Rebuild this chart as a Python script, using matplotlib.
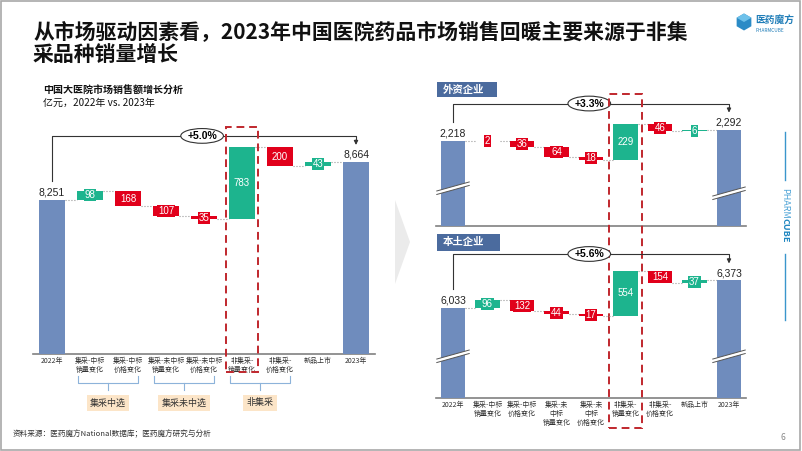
import matplotlib
matplotlib.use('Agg')
import matplotlib.pyplot as plt
import numpy as np
from matplotlib.patches import Rectangle, Polygon
from matplotlib.transforms import blended_transform_factory

plt.rcParams['font.family'] = ['Noto Sans CJK SC', 'DejaVu Sans']

# ---------------- data ----------------
cat_left = ['2022年', '集采-中标\n销量变化', '集采-中标\n价格变化', '集采-未中标\n销量变化',
            '集采-未中标\n价格变化', '非集采-\n销量变化', '非集采-\n价格变化', '新品上市', '2023年']
cat_right = ['2022年', '集采-中标\n销量变化', '集采-中标\n价格变化', '集采-未\n中标\n销量变化',
             '集采-未\n中标\n价格变化', '非集采-\n销量变化', '非集采-\n价格变化', '新品上市', '2023年']
total_vals = [8251, 98, -168, -107, -35, 783, -200, 43, 8664]
foreign_vals = [2218, -2, -36, -64, -18, 229, -46, 6, 2292]
domestic_vals = [6033, 96, -132, -44, -17, 554, -154, 37, 6373]
group_labels = ['集采中选', '集采未中选', '非集采']
group_first_idx = [1, 3, 5]
highlight_idx = 5

BLUE = '#6F8CBD'
GREEN = '#1DB48E'
RED = '#E1001B'
HEADER = '#4B6B9E'
BEIGE = '#FCE5C8'
DASH_RED = '#C0272D'
NUMFONT = ['Liberation Sans', 'DejaVu Sans']

W, H = 802, 451
fig = plt.figure(figsize=(W / 100, H / 100), dpi=100)


def add_ax(x0, y0, x1, y1):
    return fig.add_axes([x0 / W, 1 - y1 / H, (x1 - x0) / W, (y1 - y0) / H])


def ftext(x, y, s, **kw):
    return fig.text(x / W, 1 - y / H, s, **kw)


def waterfall(ax, vals, ylim, px_h, level_frac, cats=None, breaks=None):
    ax.set_xlim(-0.5, 8.5)
    ax.set_ylim(*ylim)
    upp = (ylim[1] - ylim[0]) / px_h
    n = len(vals)
    bw = 0.7
    ax.bar(0, vals[0], width=bw, color=BLUE, zorder=3)
    ax.annotate(f'{vals[0]:,}', (0, vals[0]), xytext=(0, 1.5), textcoords='offset points',
                ha='center', va='bottom', fontsize=7.5, family=NUMFONT, color='#222')
    running = vals[0]
    for i in range(1, n - 1):
        v = vals[i]
        col = GREEN if v >= 0 else RED
        bottom = running if v >= 0 else running + v
        ax.plot([i - 1 + bw / 2, i - bw / 2], [running, running], ls=':', color='#9A9A9A', lw=0.8, zorder=2)
        ax.bar(i, abs(v), bottom=bottom, width=bw, color=col, zorder=3)
        ax.text(i, bottom + abs(v) / 2, f'{abs(v)}', ha='center', va='center', color='white',
                fontsize=7, family=NUMFONT, zorder=4,
                bbox=dict(boxstyle='square,pad=0.1', fc=col, ec='none'))
        running += v
    ax.plot([n - 2 + bw / 2, n - 1 - bw / 2], [running, running], ls=':', color='#9A9A9A', lw=0.8, zorder=2)
    ax.bar(n - 1, vals[-1], width=bw, color=BLUE, zorder=3)
    ax.annotate(f'{vals[-1]:,}', (n - 1, vals[-1]), xytext=(0, 1.5), textcoords='offset points',
                ha='center', va='bottom', fontsize=7.5, family=NUMFONT, color='#222')

    # growth arrow
    level = ylim[0] + level_frac * (ylim[1] - ylim[0])
    y_start = vals[0] + 19 * upp
    y_end = vals[-1] + 17 * upp
    ax.plot([0, 0, n - 1, n - 1], [y_start, level, level, y_end + 4 * upp], color='#333333', lw=0.8,
            zorder=5, clip_on=False)
    ax.annotate('', xy=(n - 1, y_end), xytext=(n - 1, y_end + 5 * upp),
                arrowprops=dict(arrowstyle='-|>', color='#333333', lw=0.8, mutation_scale=6,
                                shrinkA=0, shrinkB=0), annotation_clip=False, zorder=5)
    pct = (vals[-1] / vals[0] - 1) * 100
    ax.text(3.95, level, f'+{pct:.1f}%', ha='center', va='center', fontsize=7.5, fontweight='bold',
            family=NUMFONT, zorder=6, clip_on=False,
            bbox=dict(boxstyle='ellipse,pad=0.02', fc='white', ec='#333333', lw=0.8))

    # axis styling
    for s in ['top', 'right', 'left']:
        ax.spines[s].set_visible(False)
    ax.spines['bottom'].set_color('#808080')
    ax.spines['bottom'].set_linewidth(1.2)
    ax.set_yticks([])
    ax.set_xticks(range(n))
    if cats is not None:
        ax.set_xticklabels(cats, fontsize=5, linespacing=1.15, color='#333333')
    else:
        ax.set_xticklabels([])
    ax.tick_params(axis='x', length=0, pad=2)
    ax.patch.set_alpha(0)

    # axis break marks
    if breaks is not None:
        for i, frac in zip([0, n - 1], breaks):
            c = ylim[0] + frac * (ylim[1] - ylim[0])
            x0, x1 = i - 0.47, i + 0.47
            rise = 4.5 * upp
            gap = 3.5 * upp
            poly = Polygon([(x0, c - rise), (x1, c + rise), (x1, c + rise + gap), (x0, c - rise + gap)],
                           closed=True, fc='white', ec='none', zorder=4)
            ax.add_patch(poly)
            ax.plot([x0, x1], [c - rise, c + rise], color='#555555', lw=0.7, zorder=4)
            ax.plot([x0, x1], [c - rise + gap, c + rise + gap], color='#555555', lw=0.7, zorder=4)


# ---------------- left chart ----------------
axL = add_ax(33, 120, 375, 354)
waterfall(axL, total_vals, (6577, 9120), 234, 0.932, cats=cat_left)
trL = blended_transform_factory(axL.transData, axL.transAxes)
axL.add_patch(Rectangle((highlight_idx - 0.42, -0.077), 0.84, 1.047, transform=trL, fill=False,
                        ec=DASH_RED, lw=1.4, ls=(0, (4, 2.5)), clip_on=False, zorder=6))
# group brackets
for lab, i0 in zip(group_labels, group_first_idx):
    a, b = i0 - 0.32, i0 + 1 + 0.27
    c = (a + b) / 2
    y_top, y_h, y_low = -0.094, -0.122, -0.155
    axL.plot([a, a, b, b], [y_top, y_h, y_h, y_top], transform=trL, color='#8DB3DA', lw=0.8, clip_on=False)
    axL.plot([c, c], [y_h, y_low], transform=trL, color='#8DB3DA', lw=0.8, clip_on=False)
    axL.text(c, -0.209, lab, transform=trL, ha='center', va='center', fontsize=6.5, color='#333333',
             bbox=dict(boxstyle='square,pad=0.35', fc=BEIGE, ec='none'), clip_on=False)

# ---------------- right top chart ----------------
axT = add_ax(435.75, 100, 746.25, 226)
waterfall(axT, foreign_vals, (1670, 2483), 126, 0.972, cats=None, breaks=(0.286, 0.246))
trT = blended_transform_factory(axT.transData, axT.transAxes)
axT.add_patch(Rectangle((highlight_idx - 0.48, -1.603), 0.96, 2.651, transform=trT, fill=False,
                        ec=DASH_RED, lw=1.4, ls=(0, (4, 2.5)), clip_on=False, zorder=6))

# ---------------- right bottom chart ----------------
axB = add_ax(435.75, 250, 746.25, 398)
waterfall(axB, domestic_vals, (4922, 6749), 148, 0.973, cats=cat_right, breaks=(0.27, 0.27))

# headers
for (x0, y0, x1, y1, s) in [(437, 82, 497, 97, '外资企业'), (437, 234, 500, 251, '本土企业')]:
    fig.add_artist(Rectangle((x0 / W, 1 - y1 / H), (x1 - x0) / W, (y1 - y0) / H,
                             transform=fig.transFigure, fc=HEADER, ec='none'))
    ftext(x0 + 6, (y0 + y1) / 2, s, fontsize=7.5, fontweight='bold', color='white', va='center')

# ---------------- texts ----------------
ftext(33, 32, '从市场驱动因素看，2023年中国医院药品市场销售回暖主要来源于非集', fontsize=15,
      fontweight='bold', va='center', color='#111111')
ftext(33, 54, '采品种销量增长', fontsize=15, fontweight='bold', va='center', color='#111111')
ftext(43, 91, '中国大医院市场销售额增长分析', fontsize=7.2, fontweight='bold', va='center', color='#111111')
ftext(43, 103, '亿元，2022年 vs. 2023年', fontsize=7.2, va='center', color='#111111')
ftext(13, 434, '资料来源：医药魔方National数据库；医药魔方研究与分析', fontsize=5.5, va='center', color='#333333')
ftext(783, 437, '6', fontsize=6, va='center', ha='center', color='#888888')

# logo
cx, cy, r = 744, 22, 8.5
hexpts = [(cx + r * np.cos(np.pi / 6 + k * np.pi / 3), cy + r * np.sin(np.pi / 6 + k * np.pi / 3)) for k in range(6)]
fig.add_artist(Polygon([(x / W, 1 - y / H) for x, y in hexpts], closed=True, transform=fig.transFigure,
                       fc='#2B8BC6', ec='none'))
fig.add_artist(Polygon([(x / W, 1 - y / H) for x, y in [(cx, cy - r), (cx + r * 0.87, cy - r / 2), (cx, cy), (cx - r * 0.87, cy - r / 2)]],
                       closed=True, transform=fig.transFigure, fc='#6EC1EA', ec='none'))
ftext(755, 20, '医药魔方', fontsize=7, fontweight='bold', va='center', color='#1F7DB8')
ftext(755.5, 30, 'PHARMCUBE', fontsize=3.4, va='center', color='#1F7DB8')

# side brand
fig.add_artist(plt.Line2D([785 / W, 785 / W], [1 - 132 / H, 1 - 180 / H], transform=fig.transFigure,
                          color='#3A96CC', lw=1))
fig.add_artist(plt.Line2D([785 / W, 785 / W], [1 - 254 / H, 1 - 320 / H], transform=fig.transFigure,
                          color='#3A96CC', lw=1))
ftext(785, 203, 'PHARM', fontsize=6.5, rotation=-90, ha='center', va='center', color='#4DA3D6')
ftext(785, 230, 'CUBE', fontsize=6.5, rotation=-90, ha='center', va='center', color='#1F86C0',
      fontweight='bold')

# chevron
fig.add_artist(Polygon([(395 / W, 1 - 200 / H), (410 / W, 1 - 242 / H), (395 / W, 1 - 284 / H)],
                       closed=True, transform=fig.transFigure, fc='#EBEBEB', ec='none'))

# frame
fig.add_artist(Rectangle((0.001, 0.002), 0.997, 0.996, transform=fig.transFigure, fill=False,
                         ec='#A8A8A8', lw=1.2))

fig.savefig('out.png', dpi=100)
